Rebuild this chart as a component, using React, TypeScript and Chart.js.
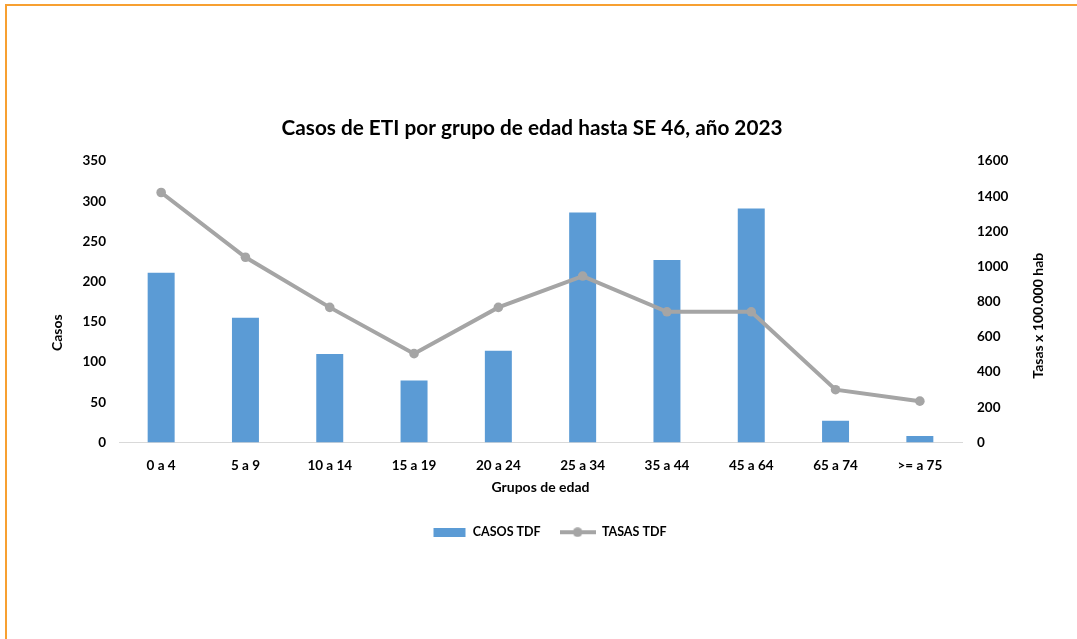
import React, { useEffect, useRef } from "react";
import { Chart, registerables } from "chart.js";

Chart.register(...registerables);

const chartTitle = "Casos de ETI por grupo de edad hasta SE 46, año 2023";
const xTitle = "Grupos de edad";
const leftTitle = "Casos";
const rightTitle = "Tasas x 100.000 hab";

const categories = ["0 a 4", "5 a 9", "10 a 14", "15 a 19", "20 a 24", "25 a 34", "35 a 44", "45 a 64", "65 a 74", ">= a 75"];
const casosLabel = "CASOS TDF";
const tasasLabel = "TASAS TDF";
const casos = [211, 155, 110, 77, 114, 286, 227, 291, 27, 8];
const tasas = [1421, 1053, 768, 505, 768, 946, 743, 743, 300, 235];

const BAR_COLOR = "#5B9BD5";
const LINE_COLOR = "#A5A5A5";
const FONT = "Lato";

function makeBarIcon(): HTMLCanvasElement {
  const c = document.createElement("canvas");
  c.width = 36;
  c.height = 9;
  const g = c.getContext("2d")!;
  g.fillStyle = BAR_COLOR;
  g.fillRect(3, 0, 32, 9);
  return c;
}

function makeLineIcon(): HTMLCanvasElement {
  const c = document.createElement("canvas");
  c.width = 36;
  c.height = 10;
  const g = c.getContext("2d")!;
  g.strokeStyle = LINE_COLOR;
  g.lineWidth = 4;
  g.beginPath();
  g.moveTo(0, 5);
  g.lineTo(36, 5);
  g.stroke();
  g.fillStyle = LINE_COLOR;
  g.beginPath();
  g.arc(18, 5, 4.8, 0, Math.PI * 2);
  g.fill();
  return c;
}

const axisTitlesPlugin = {
  id: "axisTitles",
  afterLayout(chart: any) {
    const lg = chart.legend;
    if (lg) {
      lg.left += 8;
      lg.right += 8;
    }
  },
  afterDraw(chart: any) {
    const { ctx, chartArea } = chart;
    const mid = (chartArea.top + chartArea.bottom) / 2;
    ctx.save();
    ctx.font = `bold 14px ${FONT}`;
    ctx.fillStyle = "#000";
    ctx.textAlign = "center";
    ctx.textBaseline = "middle";
    const draw = (text: string, x: number, y: number) => {
      ctx.save();
      ctx.translate(x, y);
      ctx.rotate(-Math.PI / 2);
      ctx.fillText(text, 0, 0);
      ctx.restore();
    };
    draw(leftTitle, chartArea.left - 62, mid + 31);
    draw(rightTitle, chartArea.right + 76, mid + 14);
    ctx.restore();
  },
};

export default function App() {
  const ref = useRef<HTMLCanvasElement | null>(null);

  useEffect(() => {
    if (!ref.current) return;
    Chart.defaults.font.family = FONT;
    const icons = [makeBarIcon(), makeLineIcon()];
    const tickFont = { family: FONT, size: 13.5, weight: "bold" as const };
    const legendFont = { family: FONT, size: 12.5, weight: "bold" as const };
    const titleFont = { family: FONT, size: 14, weight: "bold" as const };
    const plain = (v: any) => String(v);
    const chart = new Chart(ref.current, {
      type: "bar",
      data: {
        labels: categories,
        datasets: [
          {
            type: "bar",
            label: casosLabel,
            data: casos,
            backgroundColor: BAR_COLOR,
            borderWidth: 0,
            barPercentage: 0.32,
            categoryPercentage: 1,
            yAxisID: "y",
            order: 1,
          },
          {
            type: "line",
            label: tasasLabel,
            data: tasas,
            borderColor: LINE_COLOR,
            backgroundColor: LINE_COLOR,
            borderWidth: 4,
            pointRadius: 4.8,
            pointHoverRadius: 4.8,
            pointBorderWidth: 0,
            pointBackgroundColor: LINE_COLOR,
            tension: 0,
            yAxisID: "y1",
            order: 0,
          } as any,
        ],
      },
      options: {
        animation: false,
        responsive: false,
        maintainAspectRatio: false,
        layout: { padding: { left: 0, right: 13, top: 0, bottom: 90.5 } },
        plugins: {
          tooltip: { enabled: false },
          title: {
            display: true,
            text: chartTitle,
            color: "#000",
            font: { family: FONT, size: 20.75, weight: "bold" },
            padding: { top: 115.5, bottom: 20.6 },
          },
          legend: {
            position: "bottom",
            fullSize: false,
            labels: {
              usePointStyle: true,
              pointStyleWidth: 36,
              padding: 19,
              color: "#000",
              font: legendFont,
              generateLabels: (c: any) =>
                c.data.datasets.map((ds: any, i: number) => ({
                  text: ds.label,
                  pointStyle: icons[i],
                  fillStyle: i === 0 ? BAR_COLOR : LINE_COLOR,
                  strokeStyle: i === 0 ? BAR_COLOR : LINE_COLOR,
                  lineWidth: 0,
                  fontColor: "#000",
                  hidden: !c.isDatasetVisible(i),
                  datasetIndex: i,
                })),
            },
          },
        },
        scales: {
          x: {
            grid: { display: false, drawTicks: false },
            border: { display: true, color: "#D9D9D9", width: 1 },
            ticks: { color: "#000", font: tickFont, padding: 14.9, maxRotation: 0, autoSkip: false },
            title: {
              display: true,
              text: xTitle,
              color: "#000",
              font: titleFont,
              padding: { top: 0, bottom: 11.1 },
            },
            afterFit: (s: any) => {
              s.height = 64.5;
            },
          },
          y: {
            position: "left",
            min: 0,
            max: 350,
            grid: { display: false, drawTicks: false },
            border: { display: false },
            ticks: { stepSize: 50, color: "#000", font: tickFont, padding: 13, callback: plain },
            afterFit: (s: any) => {
              s.width = 119;
            },
          },
          y1: {
            position: "right",
            min: 0,
            max: 1600,
            grid: { display: false, drawTicks: false },
            border: { display: false },
            ticks: { stepSize: 200, color: "#000", font: tickFont, padding: 15, callback: plain },
            afterFit: (s: any) => {
              s.width = 102;
            },
          },
        },
      },
      plugins: [axisTitlesPlugin],
    });
    if ((document as any).fonts && (document as any).fonts.ready) {
      (document as any).fonts.ready.then(() => {
        try {
          chart.update();
        } catch (e) {}
      });
    }
    return () => chart.destroy();
  }, []);

  return (
    <div
      style={{
        position: "fixed",
        left: 0,
        top: 0,
        width: 1077,
        height: 639,
        overflow: "hidden",
        background: "#fff",
      }}
    >
      <div
        style={{
          position: "absolute",
          left: 5,
          top: 4,
          width: 1150,
          height: 700,
          border: "2px solid #F7A031",
          boxSizing: "border-box",
        }}
      />
      <canvas
        ref={ref}
        width={1077}
        height={639}
        style={{ position: "absolute", left: 0, top: 0, width: 1077, height: 639 }}
      />
    </div>
  );
}
